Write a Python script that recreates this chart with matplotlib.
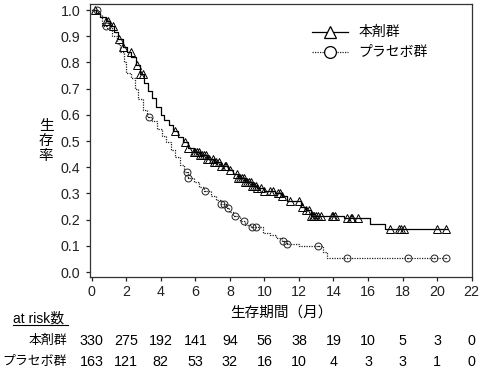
import numpy as np
import matplotlib
matplotlib.use("Agg")
import matplotlib.pyplot as plt
import matplotlib.transforms as mtransforms

plt.rcParams['font.family'] = ['Liberation Sans', 'Noto Sans CJK JP']

# ---- data ----
trt_label = "本剤群"
pla_label = "プラセボ群"

trt_time = [0, 0.25, 0.5, 0.8, 1.05, 1.3, 1.55, 1.8, 2.05, 2.3, 2.55, 2.8, 3.0, 3.25, 3.5,
            3.75, 4.0, 4.2, 4.45, 4.7, 5.0, 5.3, 5.6, 5.9, 6.3, 6.7, 7.1, 7.5, 7.9, 8.2,
            8.5, 8.9, 9.3, 9.6, 10.0, 10.6, 11.0, 11.3, 12.1, 12.4, 12.7, 14.6, 16.1, 17.0]
trt_surv = [1.0, 0.99, 0.975, 0.96, 0.94, 0.915, 0.89, 0.86, 0.84, 0.82, 0.79, 0.755, 0.72, 0.69, 0.665,
            0.63, 0.60, 0.58, 0.56, 0.54, 0.515, 0.495, 0.475, 0.46, 0.445, 0.43, 0.42, 0.405, 0.39, 0.375,
            0.36, 0.345, 0.33, 0.32, 0.31, 0.30, 0.29, 0.27, 0.25, 0.235, 0.215, 0.205, 0.185, 0.165]
trt_end = 20.55
trt_cens = [0.2, 0.8, 0.95, 1.25, 1.6, 1.8, 2.25, 2.6, 2.8, 2.95, 4.8, 5.4, 5.6,
            5.9, 6.0, 6.1, 6.2, 6.3, 6.4, 6.5, 6.6, 6.7, 6.8, 7.0, 7.1, 7.2, 7.4, 7.5, 7.7, 7.8, 8.0,
            8.4, 8.5, 8.6, 8.7, 8.8, 8.9, 9.0, 9.1, 9.2, 9.3, 9.4, 9.5, 9.6, 9.8, 10.0, 10.3, 10.5,
            10.8, 10.9, 11.0, 11.5, 12.0, 12.2, 12.4, 12.6, 12.7, 12.8, 12.9, 13.0, 13.1, 13.3,
            13.9, 14.0, 14.1, 14.8, 15.0, 15.1, 15.4, 17.3, 17.8, 17.9, 18.1, 20.0, 20.5]

pla_time = [0, 0.4, 0.6, 0.9, 1.2, 1.45, 1.65, 1.85, 2.0, 2.3, 2.5, 2.7, 2.95, 3.2, 3.5, 3.8,
            4.05, 4.3, 4.6, 4.85, 5.1, 5.35, 5.55, 5.9, 6.2, 6.5, 6.9, 7.2, 7.5, 7.75, 7.95,
            8.2, 8.6, 8.85, 9.2, 9.9, 10.3, 10.7, 11.0, 11.3, 12.0, 13.4, 13.6]
pla_surv = [1.0, 0.98, 0.94, 0.93, 0.9, 0.87, 0.84, 0.80, 0.76, 0.74, 0.70, 0.66, 0.62, 0.59, 0.575, 0.545,
            0.52, 0.495, 0.465, 0.44, 0.41, 0.38, 0.36, 0.345, 0.325, 0.31, 0.29, 0.275, 0.26, 0.245, 0.23,
            0.215, 0.195, 0.18, 0.17, 0.15, 0.14, 0.13, 0.12, 0.107, 0.099, 0.075, 0.053]
pla_end = 20.5
pla_cens = [0.3, 0.8, 3.3, 5.5, 5.6, 6.55, 7.5, 7.65, 7.9, 8.3, 8.8, 9.3, 9.5, 11.1, 11.3, 13.1,
            14.8, 18.3, 19.8, 20.5]

xticks = [0, 2, 4, 6, 8, 10, 12, 14, 16, 18, 20, 22]
yticks = [0.0, 0.1, 0.2, 0.3, 0.4, 0.5, 0.6, 0.7, 0.8, 0.9, 1.0]
risk_trt = [330, 275, 192, 141, 94, 56, 38, 19, 10, 5, 3, 0]
risk_pla = [163, 121, 82, 53, 32, 16, 10, 4, 3, 3, 1, 0]

# ---- figure ----
W, H = 482, 371
fig = plt.figure(figsize=(W / 100, H / 100), dpi=100)
ax = fig.add_axes([90 / W, 1 - 277 / H, 382 / W, 273 / H])

def surv_at(times, surv, t):
    idx = np.searchsorted(np.asarray(times), np.asarray(t), side='right') - 1
    return np.asarray(surv)[idx]

# treatment
tx = list(trt_time) + [trt_end]
ty = list(trt_surv) + [trt_surv[-1]]
ax.step(tx, ty, where='post', color='black', lw=0.9)
ax.plot(trt_cens, surv_at(trt_time, trt_surv, trt_cens), ls='none', marker='^',
        ms=5.2, mfc='none', mec='black', mew=0.7)

# placebo
px = list(pla_time) + [pla_end]
py = list(pla_surv) + [pla_surv[-1]]
ax.step(px, py, where='post', color='#222222', lw=0.9, ls=(0, (1, 1)))
pc_y = surv_at(pla_time, pla_surv, pla_cens)
ax.plot(pla_cens, pc_y, ls='none', marker='o', ms=5, mfc='none', mec='#222222', mew=0.7)
ax.plot(pla_cens, pc_y, ls='none', marker='o', ms=0.9, mfc='#222222', mec='none')

ax.set_xlim(-0.098, 22.02)
ax.set_ylim(-0.019, 1.023)
ax.set_xticks(xticks)
ax.set_xticklabels([str(v) for v in xticks])
ax.set_yticks(yticks)
ax.set_yticklabels(['%.1f' % v for v in yticks])
ax.tick_params(direction='out', length=3, width=0.9, labelsize=10.3, pad=3, colors='#222222')
ax.tick_params(axis='y', pad=4)
for sp in ax.spines.values():
    sp.set_linewidth(0.9)
    sp.set_color('#333333')

# legend (manual)
ax.plot([0.581, 0.675], [0.897, 0.897], transform=ax.transAxes, color='black', lw=0.9)
ax.plot([0.628], [0.897], transform=ax.transAxes, marker='^', ms=8.5, mfc='white', mec='black', mew=0.9)
ax.text(0.702, 0.897, trt_label, transform=ax.transAxes, va='center', ha='left', fontsize=10)
ax.plot([0.581, 0.675], [0.824, 0.824], transform=ax.transAxes, color='#222222', lw=0.9, ls=(0, (1, 1)))
ax.plot([0.628], [0.824], transform=ax.transAxes, marker='o', ms=8.5, mfc='white', mec='black', mew=0.9)
ax.text(0.702, 0.824, pla_label, transform=ax.transAxes, va='center', ha='left', fontsize=10)

# axis labels
fig.text(46 / W, 1 - 141 / H, "生\n存\n率", ha='center', va='center', fontsize=10.5, linespacing=1.05)
fig.text(281 / W, 1 - 313 / H, "生存期間（月）", ha='center', va='center', fontsize=10.5)

# at-risk table
fig.text(13 / W, 1 - 319 / H, "at risk数", ha='left', va='center', fontsize=10)
fig.add_artist(plt.Line2D([13 / W, 68 / W], [1 - 325 / H, 1 - 325 / H], color='black', lw=0.8))
fig.text(67 / W, 1 - 341 / H, trt_label, ha='right', va='center', fontsize=9.3)
fig.text(67 / W, 1 - 362 / H, pla_label, ha='right', va='center', fontsize=9.3)
trans = mtransforms.blended_transform_factory(ax.transData, fig.transFigure)
for xv, a, b in zip(xticks, risk_trt, risk_pla):
    ax.text(xv, 1 - 341 / H, str(a), transform=trans, ha='center', va='center', fontsize=10.3)
    ax.text(xv, 1 - 362 / H, str(b), transform=trans, ha='center', va='center', fontsize=10.3)

fig.savefig("out.png", dpi=100)
